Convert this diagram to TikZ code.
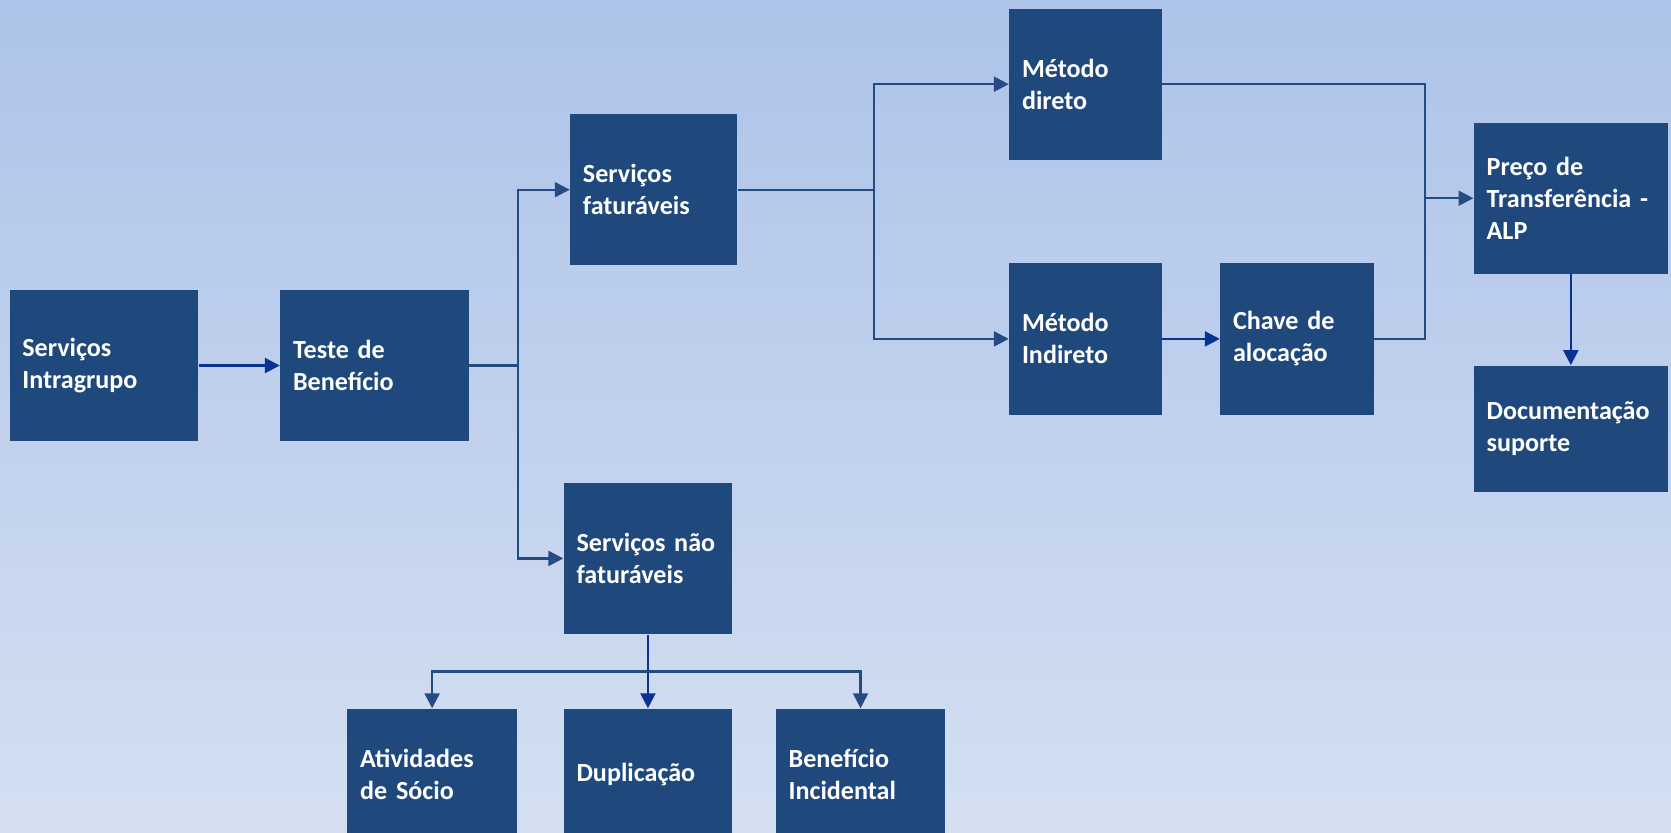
\documentclass[tikz,border=0pt]{standalone}
\usepackage{fontspec}
\setmainfont{Carlito}
\usetikzlibrary{arrows.meta}
\definecolor{boxblue}{RGB}{31,73,125}
\definecolor{linkblue}{RGB}{36,76,130}
\definecolor{darklink}{RGB}{8,52,145}
\definecolor{bgtop}{RGB}{173,195,233}
\definecolor{bgbot}{RGB}{212,223,241}
\tikzset{
  box/.style={fill=boxblue, text=white, font=\bfseries\fontsize{12.25}{15}\selectfont,
    align=left, inner xsep=6pt, inner ysep=0pt, anchor=center},
  sz/.style 2 args={text width=#1, minimum height=#2},
  link/.style={draw=linkblue, line width=1.1pt},
  arr/.style={link, -{Triangle[length=7pt,width=7pt]}},
  arrD/.style={draw=darklink, line width=1.1pt, -{Triangle[length=7pt,width=7pt]}}
}
\begin{document}
\begin{tikzpicture}[x=0.5pt,y=-0.5pt]
\useasboundingbox (0,0) rectangle (1568,781);
\fill[top color=bgtop, bottom color=bgbot] (0,0) rectangle (1568,781);
\clip (0,0) rectangle (1568,781);

\node[box, sz={76.5pt}{71pt}] (intra) at (97.5,343) {Serviços\\Intragrupo};
\node[box, sz={76.5pt}{71pt}] (teste) at (351.5,343) {Teste de\\Benefício};
\node[box, sz={66.5pt}{71pt}] (fat) at (613.5,178) {Serviços\\faturáveis};
\node[box, sz={67pt}{71pt}] (naofat) at (608,524) {Serviços~não\\faturáveis};
\node[box, sz={59.5pt}{71pt}] (mdir) at (1018.5,79) {Método\\direto};
\node[box, sz={59.5pt}{71pt}] (mind) at (1018.5,318) {Método\\Indireto};
\node[box, sz={60pt}{71pt}] (chave) at (1217,318) {Chave de\\alocação};
\node[box, sz={79pt}{71pt}] (preco) at (1474,186) {Preço de\\Transferência~-\\ALP};
\node[box, sz={79pt}{59.5pt}] (doc) at (1474,402.5) {Documentação\\suporte};
\node[box, sz={67.5pt}{62pt}] (ativ) at (405.5,727) {Atividades\\de Sócio};
\node[box, sz={67pt}{62pt}] (dup) at (608,727) {Duplicação};
\node[box, sz={67.5pt}{62pt}] (ben) at (807.5,727) {Benefício\\Incidental};

\coordinate (j1) at (486,343);
\coordinate (j2) at (820,178);
\coordinate (j3) at (1337,318);
\coordinate (j4) at (1337,186);
\coordinate (j5) at (608,630);

\draw[arrD] (intra) -- (teste);
\draw[link] (teste.east) -- (j1);
\draw[arr] (j1) |- (fat);
\draw[arr] (j1) |- (naofat);
\draw[link] (fat.east) -- (j2);
\draw[arr] (j2) |- (mdir);
\draw[arr] (j2) |- (mind);
\draw[arrD] (mind) -- (chave);
\draw[link] (mdir.east) -| (j3) -- (chave.east);
\draw[arr] (j4) -- (preco);
\draw[arrD] (preco) -- (doc);
\draw[arrD] (naofat) -- (dup);
\draw[arr] (j5) -| (ativ);
\draw[arr] (j5) -| (ben);
\end{tikzpicture}
\end{document}
